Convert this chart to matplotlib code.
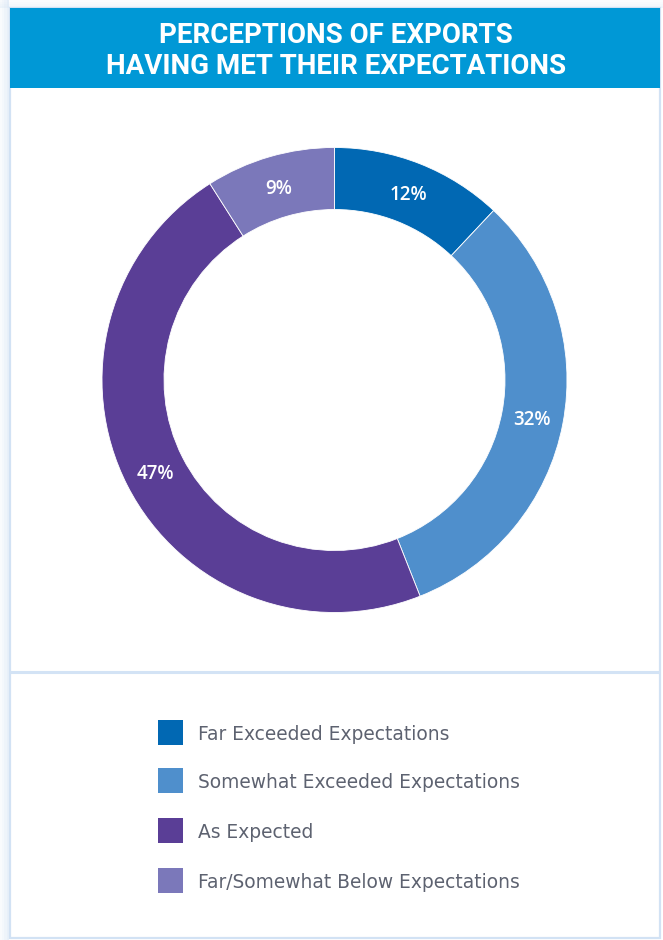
import matplotlib
matplotlib.use("Agg")
import matplotlib.pyplot as plt
from matplotlib.patches import Rectangle

# Survey shares (percent)
categories = [
    "Far Exceeded Expectations",
    "Somewhat Exceeded Expectations",
    "As Expected",
    "Far/Somewhat Below Expectations",
]
shares = [12, 32, 47, 9]
colors = ["#0168B3", "#4F8FCC", "#5A3E96", "#7B78BA"]
title = "PERCEPTIONS OF EXPORTS\nHAVING MET THEIR EXPECTATIONS"

W, H = 663, 940
fig = plt.figure(figsize=(W / 100, H / 100), dpi=100)
fig.patch.set_facecolor("white")

# background canvas in pixel units (y grows downwards)
bg = fig.add_axes([0, 0, 1, 1])
bg.set_xlim(0, W)
bg.set_ylim(H, 0)
bg.axis("off")

# soft shadow down the left and top edges
for i, a in enumerate([0.12, 0.22, 0.34, 0.48]):
    bg.add_patch(Rectangle((i * 2.2, 0), 2.2, H, color="#cfe0f3", alpha=a, lw=0))
    bg.add_patch(Rectangle((0, i * 2), W, 2, color="#cfe0f3", alpha=a * 0.6, lw=0))

bg.add_patch(Rectangle((9.5, 8), 650.5, 930, facecolor="white",
                       edgecolor="#d2e2f4", lw=1.6))
bg.add_patch(Rectangle((9.5, 8), 650.5, 80, facecolor="#0098D6", lw=0))
bg.plot([10, 660], [672, 672], color="#d3e3f5", lw=2.2, solid_capstyle="butt")

bg.text(336, 51, title, ha="center", va="center", color="white",
        fontsize=20, fontweight="bold", family="Roboto",
        linespacing=1.18)

# donut
cx, cy, r_px = 334.5, 380, 232.5
half = 250
ax = fig.add_axes([(cx - half) / W, (H - cy - half) / H,
                   2 * half / W, 2 * half / H])
lim = half / r_px

ring = 62 / r_px
wedges, _, autotexts = ax.pie(
    shares, colors=colors, startangle=90, counterclock=False,
    radius=1, wedgeprops=dict(width=ring, edgecolor="white", linewidth=0.6),
    autopct=lambda p: f"{p:.0f}%", pctdistance=1 - ring / 2,
    textprops=dict(color="white", fontsize=13.5, family="Open Sans",
                   fontweight="semibold"))
for t in autotexts:
    t.set_va("center_baseline")
ax.set_xlim(-lim, lim)
ax.set_ylim(-lim, lim)
ax.set_aspect("equal")
ax.axis("off")

# legend rows
rows_y = [732, 780, 830, 880]
for name, col, y in zip(categories, colors, rows_y):
    bg.add_patch(Rectangle((158, y - 12.5), 25, 25, color=col, lw=0))
    bg.text(198, y + 2, name, ha="left", va="center", color="#5d6270",
            fontsize=13.4, family="DejaVu Sans")

fig.savefig("out.png", dpi=100)
